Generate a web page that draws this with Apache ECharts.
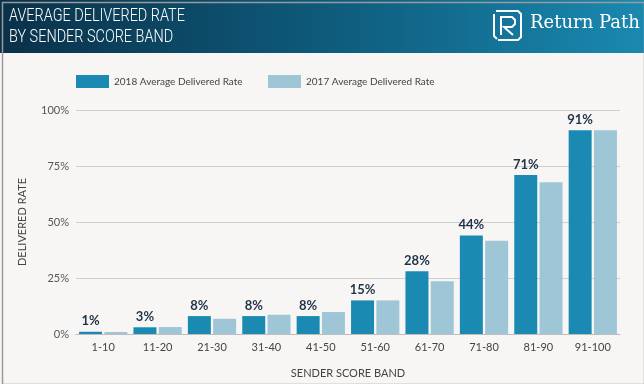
<!DOCTYPE html>
<html><head><meta charset="utf-8">
<script src="https://cdn.jsdelivr.net/npm/echarts@6/dist/echarts.min.js"></script>
<style>html,body{margin:0;padding:0;background:#f8f6f5}#c{width:644px;height:384px}</style>
</head><body><div id="c"></div>
<script>
const categories = ['1-10','11-20','21-30','31-40','41-50','51-60','61-70','71-80','81-90','91-100'];
const rate2018 = [1, 3, 8, 8, 8, 15, 28, 44, 71, 91];
const rate2017 = [0.9, 3.1, 6.8, 8.6, 9.8, 15, 23.5, 41.6, 67.8, 91];
const yTicks = [0, 25, 50, 75, 100];
const seriesNames = ['2018 Average Delivered Rate', '2017 Average Delivered Rate'];
const titleLines = ['AVERAGE DELIVERED RATE', 'BY SENDER SCORE BAND'];

const c2018 = '#1b8ab2', c2017 = '#9ec6d7';
const chart = echarts.init(document.getElementById('c'), null, {renderer:'canvas'});
const font = 'Lato, "Noto Sans", sans-serif';
chart.setOption({
  backgroundColor: '#f8f6f5',
  animation: false,
  textStyle: {fontFamily: font},
  grid: {left: 76, right: 24, top: 110, bottom: 49, containLabel: false},
  legend: [
    {data: [seriesNames[0]], left: 71, top: 70, itemWidth: 33, itemHeight: 13, itemGap: 8,
     textStyle: {fontSize: 10, color: '#444', fontFamily: font}, icon: 'rect'},
    {data: [seriesNames[1]], left: 263, top: 70, itemWidth: 33, itemHeight: 13, itemGap: 8,
     textStyle: {fontSize: 10, color: '#444', fontFamily: font}, icon: 'rect'}
  ],
  xAxis: {
    type: 'category', data: categories,
    name: 'SENDER SCORE BAND', nameLocation: 'middle', nameGap: 34,
    nameTextStyle: {fontSize: 11, color: '#444'},
    axisLine: {lineStyle: {color: '#bdbdbd', width: 1}},
    axisTick: {show: false},
    axisLabel: {fontSize: 11, color: '#444', margin: 8}
  },
  yAxis: {
    type: 'value', min: yTicks[0], max: yTicks[yTicks.length-1], interval: 25,
    name: 'DELIVERED RATE', nameLocation: 'middle', nameGap: 48, nameRotate: 90,
    nameTextStyle: {fontSize: 11, color: '#444'},
    axisLine: {show: false}, axisTick: {show: false},
    axisLabel: {fontSize: 11, color: '#555', formatter: '{value}%', margin: 7},
    splitLine: {lineStyle: {color: '#cfcfcf', width: 1}}
  },
  series: [
    {name: seriesNames[0], type: 'bar', data: rate2018, barWidth: 23, barGap: '10%', barCategoryGap: '12%',
     itemStyle: {color: c2018},
     label: {show: true, position: 'top', formatter: '{c}%', fontSize: 13, fontWeight: 'bold', color: '#1f3348', distance: 4}},
    {name: seriesNames[1], type: 'bar', data: rate2017, barWidth: 23, barGap: '10%',
     itemStyle: {color: c2017}}
  ],
  graphic: [
    {type: 'rect', left: 0, top: 0, shape: {width: 644, height: 53}, z: -1,
     style: {fill: new echarts.graphic.LinearGradient(0, 0, 1, 0, [
       {offset: 0, color: '#0a3149'}, {offset: 0.5, color: '#0e5a7b'}, {offset: 1, color: '#1a89b0'}])}},
    {type: 'text', x: 9, y: 6, scaleX: 0.78, z: 5,
     style: {text: titleLines.join('\n'), fill: '#ffffff', font: '300 18.5px Roboto, sans-serif', lineHeight: 21}},
    {type: 'text', x: 530, y: 14, z: 5,
     style: {text: 'Return Path', fill: '#ffffff', font: '18px "DejaVu Serif", serif'}},
    {type: 'group', x: 492, y: 10, z: 5, children: [
      {type: 'polyline', shape: {points: [[4,1],[26,1],[29,4],[29,27],[26,30],[6,30]]}, style: {stroke: '#fff', lineWidth: 2, fill: null}},
      {type: 'polyline', shape: {points: [[2,4],[2,26],[5,29]]}, style: {stroke: '#fff', lineWidth: 2, fill: null}},
      {type: 'polyline', shape: {points: [[9,25],[9,7],[20,7],[23,10],[23,14],[20,17],[12,17],[21,25]]}, style: {stroke: '#fff', lineWidth: 2, fill: null}}
    ]},
    {type: 'rect', left: 0, top: 0, shape: {x: 0.5, y: 0.5, width: 642, height: 382}, z: 10, silent: true,
     style: {fill: null, stroke: '#9a9a9a', lineWidth: 1.5}}
  ]
});
</script></body></html>
